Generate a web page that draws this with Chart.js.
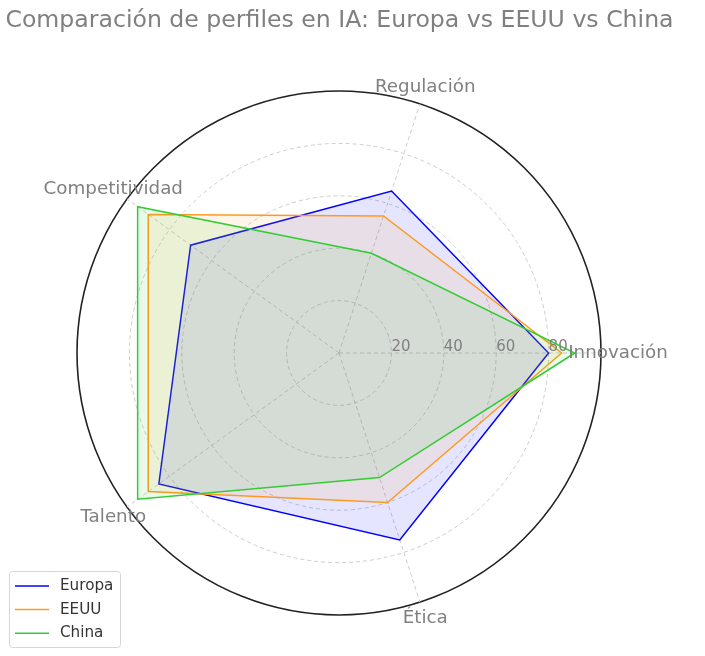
<!DOCTYPE html>
<html>
<head>
<meta charset="utf-8">
<script src="https://cdn.jsdelivr.net/npm/chart.js@4.4.1/dist/chart.umd.min.js"></script>
<style>
    html, body { margin: 0; padding: 0; background: #fff; }
    #wrap { width: 705px; height: 656px; }
</style>
</head>
<body>
<div id="wrap"><canvas id="radar" width="705" height="656"></canvas></div>
<script>
"use strict";

// données du graphique (ordre anti-horaire depuis la droite)
const categories = ['Innovación', 'Regulación', 'Competitividad', 'Talento', 'Ética'];
const europa = [80, 65, 70, 85, 75];
const eeuu = [85, 55, 90, 90, 60];
const china = [90, 40, 95, 95, 50];
const tickValues = [20, 40, 60, 80];
const titre = 'Comparación de perfiles en IA: Europa vs EEUU vs China';

const FONT = "'DejaVu Sans', sans-serif";

// Chart.js tourne dans le sens horaire : on inverse l'ordre (sauf le premier)
const chartOrder = [0, 4, 3, 2, 1];
const reorder = arr => chartOrder.map(i => arr[i]);

const series = [
    {label: 'Europa', data: europa, color: 'rgb(0, 0, 255)', fill: 'rgba(0, 0, 255, 0.1)', order: 3},
    {label: 'EEUU', data: eeuu, color: 'rgb(255, 154, 32)', fill: 'rgba(255, 154, 32, 0.1)', order: 2},
    {label: 'China', data: china, color: 'rgb(50, 205, 50)', fill: 'rgba(50, 205, 50, 0.1)', order: 1}
];

/**
 * Dessine le titre, les étiquettes des axes, les graduations et la légende
 */
const decorations = {
    id: 'decorations',
    afterDraw(chart) {
        const {ctx} = chart;
        const scale = chart.scales.r;

        ctx.save();
        // titre
        ctx.fillStyle = 'gray';
        ctx.font = '23.6px ' + FONT;
        ctx.textAlign = 'center';
        ctx.textBaseline = 'middle';
        ctx.fillText(titre, scale.xCenter + 0.5, 21);

        // étiquettes des catégories
        ctx.font = '18.3px ' + FONT;
        reorder(categories).forEach((label, i) => {
            const p = scale.getPointPositionForValue(i, 106.5);
            ctx.fillText(label, p.x, p.y);
        });

        // graduations
        ctx.font = '15px ' + FONT;
        ctx.textAlign = 'left';
        ctx.textBaseline = 'alphabetic';
        tickValues.forEach(v => {
            const x = scale.xCenter + scale.getDistanceFromCenterForValue(v);
            ctx.fillText(String(v), x, scale.yCenter - 2);
        });

        // légende
        const box = {x: 9.5, y: 571.5, w: 111, h: 76};
        ctx.beginPath();
        ctx.roundRect(box.x, box.y, box.w, box.h, 3);
        ctx.fillStyle = 'rgba(255, 255, 255, 0.8)';
        ctx.fill();
        ctx.strokeStyle = '#d6d6d6';
        ctx.lineWidth = 1;
        ctx.stroke();

        ctx.font = '15.2px ' + FONT;
        ctx.textBaseline = 'middle';
        series.forEach((s, i) => {
            const y = 586 + i * 23.6;
            ctx.beginPath();
            ctx.moveTo(15, y);
            ctx.lineTo(49, y);
            ctx.strokeStyle = s.color;
            ctx.lineWidth = 1.5;
            ctx.stroke();
            ctx.fillStyle = '#333';
            ctx.fillText(s.label, 60, y);
        });
        ctx.restore();
    }
};

const config = {
    type: 'radar',
    data: {
        labels: reorder(categories),
        datasets: series.map(s => ({
            label: s.label,
            data: reorder(s.data),
            borderColor: s.color,
            backgroundColor: s.fill,
            borderWidth: 1.5,
            fill: true,
            pointRadius: 0,
            pointHoverRadius: 0,
            tension: 0,
            order: s.order
        }))
    },
    options: {
        responsive: false,
        animation: false,
        devicePixelRatio: 1,
        layout: {
            padding: {left: 77, top: 91, right: 104, bottom: 41}
        },
        plugins: {
            legend: {display: false},
            title: {display: false},
            tooltip: {enabled: false}
        },
        scales: {
            r: {
                min: 0,
                max: 100,
                startAngle: 90,
                ticks: {
                    display: false,
                    stepSize: 20
                },
                pointLabels: {display: false},
                grid: {
                    circular: true,
                    color: ctx => ctx.tick && ctx.tick.value === 100 ? '#222' : '#cccccc',
                    lineWidth: ctx => ctx.tick && ctx.tick.value === 100 ? 1.6 : 1
                },
                border: {
                    dash: ctx => ctx.tick && ctx.tick.value === 100 ? [] : [4, 3]
                },
                angleLines: {
                    color: '#cccccc',
                    lineWidth: 1,
                    borderDash: [4, 3]
                }
            }
        }
    },
    plugins: [decorations]
};

new Chart(document.getElementById('radar'), config);
</script>
</body>
</html>
